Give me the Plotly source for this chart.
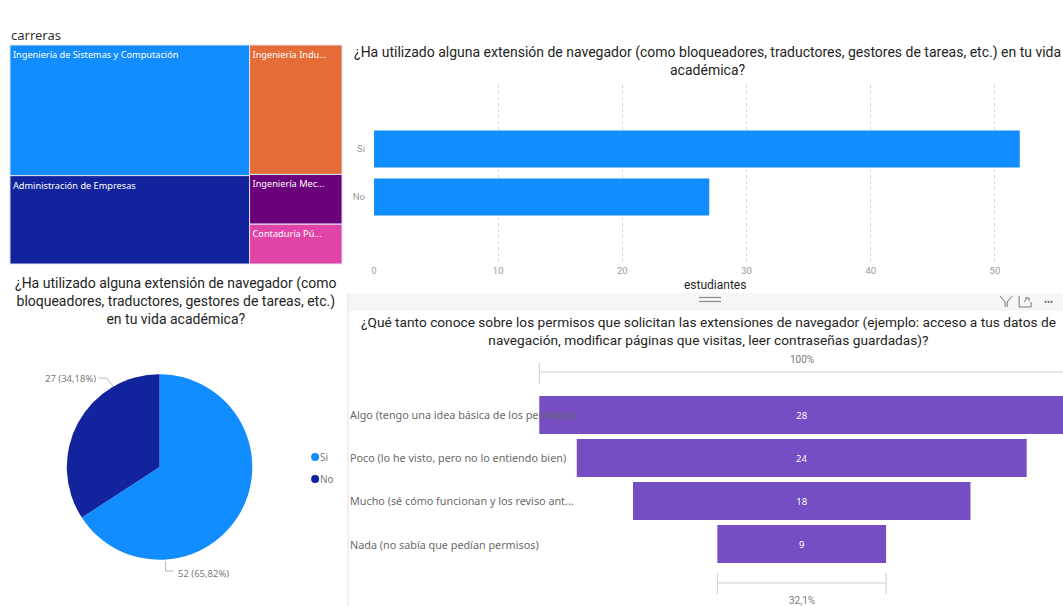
import plotly.graph_objects as go

# ---------------- data ----------------
carreras = [
    "Ingeniería de Sistemas y Computación",
    "Ingeniería Industrial",
    "Administración de Empresas",
    "Ingeniería Mecánica",
    "Contaduría Pública",
]
carreras_texto = [
    "Ingeniería de Sistemas y Computación",
    "Ingeniería Indu...",
    "Administración de Empresas",
    "Ingeniería Mec...",
    "Contaduría Pú...",
]
carreras_estudiantes = [34, 13, 23, 5, 4]
carreras_colores = ["#118DFF", "#E66C37", "#12239E", "#6B007B", "#E044A7"]

uso_respuestas = ["Si", "No"]
uso_estudiantes = [52, 27]
uso_ticks = [0, 10, 20, 30, 40, 50]

permisos_niveles = [
    "Algo (tengo una idea básica de los permisos)",
    "Poco (lo he visto, pero no lo entiendo bien)",
    "Mucho (sé cómo funcionan y los reviso ant...",
    "Nada (no sabía que pedían permisos)",
]
permisos_estudiantes = [28, 24, 18, 9]

# ---------------- helpers ----------------
W, H = 1063, 606


def px(x):
    return x / W


def py(y):
    return 1 - y / H


TITLE_FONT = "Roboto, sans-serif"
BODY_FONT = "Noto Sans, Open Sans, sans-serif"
DARK = "#252423"
GRAY = "#7a7a7a"
TITLE_SIZE = 14

fig = go.Figure()

# ---------------- treemap: carreras ----------------
fig.add_trace(go.Treemap(
    labels=carreras,
    parents=[""] * len(carreras),
    values=carreras_estudiantes,
    text=carreras_texto,
    texttemplate="%{text}",
    textposition="top left",
    textfont=dict(family=BODY_FONT, size=9.2, color="white"),
    marker=dict(colors=carreras_colores, line=dict(color="#dde3f3", width=1),
                pad=dict(t=0, l=0, r=0, b=0)),
    pathbar=dict(visible=False),
    tiling=dict(pad=0, squarifyratio=2),
    root=dict(color="white"),
    domain=dict(x=[px(7), px(340)], y=[py(264), py(45)]),
    hoverinfo="label+value",
))

# ---------------- bar chart ----------------
fig.add_trace(go.Bar(
    x=uso_estudiantes,
    y=uso_respuestas,
    orientation="h",
    marker=dict(color="#118DFF", line=dict(width=0)),
    width=0.77,
    xaxis="x",
    yaxis="y",
    showlegend=False,
))

# ---------------- pie chart ----------------
pie_colors = ["#118DFF", "#12239E"]
fig.add_trace(go.Pie(
    labels=uso_respuestas,
    values=uso_estudiantes,
    sort=False,
    direction="clockwise",
    rotation=0,
    marker=dict(colors=pie_colors, line=dict(width=0)),
    textinfo="none",
    showlegend=False,
    domain=dict(x=[px(64), px(250)], y=[py(560), py(374)]),
))

# ---------------- funnel ----------------
fig.add_trace(go.Funnel(
    x=permisos_estudiantes,
    y=permisos_niveles,
    marker=dict(color="#744EC2"),
    textinfo="value",
    textposition="inside",
    textfont=dict(family=BODY_FONT, size=9.5, color="white"),
    insidetextanchor="middle",
    connector=dict(visible=False),
    width=0.88,
    xaxis="x2",
    yaxis="y2",
    showlegend=False,
))

# funnel scale: 0 sits at pixel 801, 18.8 px per student
f_scale = 18.8
f_left, f_right, f_center = 521, 1063, 801
f_range = [-(f_center - f_left) / f_scale, (f_right - f_center) / f_scale]

shapes = []
annotations = []

# titles
annotations.append(dict(
    text="carreras", x=px(6), y=py(35), xref="paper", yref="paper",
    xanchor="left", yanchor="middle", showarrow=False,
    font=dict(family=BODY_FONT, size=13, color="#333333"),
))
annotations.append(dict(
    text="¿Ha utilizado alguna extensión de navegador (como bloqueadores, traductores, gestores de tareas, etc.) en tu vida<br>académica?",
    x=px(706), y=py(61), xref="paper", yref="paper",
    xanchor="center", yanchor="middle", showarrow=False,
    font=dict(family=TITLE_FONT, size=TITLE_SIZE, color=DARK),
))
annotations.append(dict(
    text="¿Ha utilizado alguna extensión de navegador (como<br>bloqueadores, traductores, gestores de tareas, etc.)<br>en tu vida académica?",
    x=px(173), y=py(301), xref="paper", yref="paper",
    xanchor="center", yanchor="middle", showarrow=False,
    font=dict(family=TITLE_FONT, size=TITLE_SIZE, color=DARK),
))
annotations.append(dict(
    text="¿Qué tanto conoce sobre los permisos que solicitan las extensiones de navegador (ejemplo: acceso a tus datos de<br>navegación, modificar páginas que visitas, leer contraseñas guardadas)?",
    x=px(707), y=py(331), xref="paper", yref="paper",
    xanchor="center", yanchor="middle", showarrow=False,
    font=dict(family=TITLE_FONT, size=13.7, color=DARK),
))

# bar chart axis title
annotations.append(dict(
    text="estudiantes", x=px(714), y=py(285), xref="paper", yref="paper",
    xanchor="center", yanchor="middle", showarrow=False,
    font=dict(family=TITLE_FONT, size=12, color=DARK),
))

# pie labels with leader lines
total = sum(uso_estudiantes)
pie_label_pos = [  # (x, y, anchor)
    (173, 573, "left"),
    (95, 378, "right"),
]
for v, (lx, ly, anc) in zip(uso_estudiantes, pie_label_pos):
    pct = f"{100 * v / total:.2f}".replace(".", ",")
    annotations.append(dict(
        text=f"{v} ({pct}%)", x=px(lx), y=py(ly), xref="paper", yref="paper",
        xanchor=anc, yanchor="middle", showarrow=False,
        font=dict(family=BODY_FONT, size=9.5, color=GRAY),
    ))
shapes.append(dict(type="path", xref="paper", yref="paper",
                   path=f"M {px(96)},{py(378)} L {px(104)},{py(378)} L {px(111)},{py(387)}",
                   line=dict(color="#b8b8b8", width=1)))
shapes.append(dict(type="path", xref="paper", yref="paper",
                   path=f"M {px(163)},{py(561)} L {px(163)},{py(571)} L {px(171)},{py(571)}",
                   line=dict(color="#b8b8b8", width=1)))

# pie legend
for i, (lab, col) in enumerate(zip(uso_respuestas, pie_colors)):
    cy = 457 + 22 * i
    shapes.append(dict(type="circle", xref="paper", yref="paper",
                       x0=px(309), x1=px(317), y0=py(cy + 4), y1=py(cy - 4),
                       fillcolor=col, line=dict(width=0)))
    annotations.append(dict(
        text=lab, x=px(316), y=py(cy), xref="paper", yref="paper",
        xanchor="left", yanchor="middle", showarrow=False,
        font=dict(family=BODY_FONT, size=10, color=GRAY),
    ))

# funnel panel frame / header
shapes.append(dict(type="rect", xref="paper", yref="paper",
                   x0=px(346), x1=px(1063), y0=py(311), y1=py(293),
                   fillcolor="#f6f6f6", line=dict(width=0), layer="below"))
shapes.append(dict(type="line", xref="paper", yref="paper",
                   x0=px(346), x1=px(346), y0=py(293), y1=py(606),
                   line=dict(color="#e3e3e3", width=1)))
for yy in (297.5, 301.5):
    shapes.append(dict(type="line", xref="paper", yref="paper",
                       x0=px(698), x1=px(720), y0=py(yy), y1=py(yy),
                       line=dict(color="#8a8a8a", width=1.2)))
# filter icon
shapes.append(dict(type="path", xref="paper", yref="paper",
                   path=f"M {px(1000)},{py(296)} L {px(1005)},{py(302)} L {px(1005)},{py(307)} "
                        f"M {px(1012)},{py(296)} L {px(1007)},{py(302)} L {px(1007)},{py(307)}",
                   line=dict(color="#777777", width=1)))
# focus icon
shapes.append(dict(type="path", xref="paper", yref="paper",
                   path=f"M {px(1019)},{py(296)} L {px(1019)},{py(307)} L {px(1031)},{py(307)} L {px(1031)},{py(302)} "
                        f"M {px(1024)},{py(302)} L {px(1027)},{py(298)} M {px(1025)},{py(298)} L {px(1029)},{py(298)} L {px(1029)},{py(301)}",
                   line=dict(color="#777777", width=1)))
annotations.append(dict(
    text="•••", x=px(1042), y=py(301), xref="paper", yref="paper",
    xanchor="left", yanchor="middle", showarrow=False,
    font=dict(family=BODY_FONT, size=8, color="#666666"),
))

# funnel category labels
for lvl in permisos_niveles:
    annotations.append(dict(
        text=lvl, x=px(346), y=lvl, xref="paper", yref="y2",
        xanchor="left", yanchor="middle", showarrow=False,
        font=dict(family=BODY_FONT, size=10.8, color="#6a6a6a"),
    ))

# funnel brackets: first stage (100%) and last stage relative to first
first, last = permisos_estudiantes[0], permisos_estudiantes[-1]
shapes.append(dict(type="line", xref="x2", yref="paper",
                   x0=-first / 2, x1=first / 2, y0=py(372), y1=py(372),
                   line=dict(color="#cfcfcf", width=1)))
shapes.append(dict(type="line", xref="x2", yref="paper",
                   x0=-first / 2, x1=-first / 2, y0=py(363), y1=py(384),
                   line=dict(color="#cfcfcf", width=1)))
shapes.append(dict(type="line", xref="x2", yref="paper",
                   x0=-last / 2, x1=last / 2, y0=py(583), y1=py(583),
                   line=dict(color="#cfcfcf", width=1)))
for xe in (-last / 2, last / 2):
    shapes.append(dict(type="line", xref="x2", yref="paper",
                       x0=xe, x1=xe, y0=py(573), y1=py(594),
                       line=dict(color="#cfcfcf", width=1)))
annotations.append(dict(
    text="100%", x=0, y=py(359), xref="x2", yref="paper",
    xanchor="center", yanchor="middle", showarrow=False,
    font=dict(family=TITLE_FONT, size=10, color=GRAY),
))
annotations.append(dict(
    text=f"{100 * last / first:.1f}%".replace(".", ","), x=0, y=py(600),
    xref="x2", yref="paper", xanchor="center", yanchor="middle", showarrow=False,
    font=dict(family=TITLE_FONT, size=10, color=GRAY),
))

# bar chart y range: Si at pixel 149, No at 197 (48 px per category)
bar_top, bar_bot = 85, 263
y_hi = 1 + (149 - bar_top) / 48
y_lo = 0 - (bar_bot - 197) / 48

fig.update_layout(
    width=W, height=H,
    margin=dict(l=0, r=0, t=0, b=0),
    paper_bgcolor="white",
    plot_bgcolor="white",
    separators=",.",
    showlegend=False,
    font=dict(family=BODY_FONT, color=GRAY),
    xaxis=dict(
        domain=[px(372), px(1057)], range=[0, 55],
        tickvals=uso_ticks, showgrid=True, gridcolor="#d6d6d6", griddash="dot",
        gridwidth=1, zeroline=False, showline=False, ticks="",
        tickfont=dict(family=TITLE_FONT, size=9.5, color="#9a9a9a"),
        anchor="y", fixedrange=True,
    ),
    yaxis=dict(
        domain=[py(bar_bot), py(bar_top)], range=[y_lo, y_hi],
        type="category", categoryorder="array", categoryarray=["No", "Si"],
        showgrid=False, zeroline=False, showline=False, ticks="",
        tickfont=dict(family=TITLE_FONT, size=9.5, color="#9a9a9a"),
        ticklabelstandoff=8, anchor="x", fixedrange=True,
    ),
    xaxis2=dict(
        domain=[px(f_left), px(f_right)], range=f_range,
        visible=False, anchor="y2", fixedrange=True,
    ),
    yaxis2=dict(
        domain=[py(565.5), py(393.5)], range=[3.5, -0.5],
        type="category", categoryorder="array", categoryarray=permisos_niveles,
        showticklabels=False, showgrid=False, zeroline=False, showline=False,
        anchor="x2", fixedrange=True,
    ),
    shapes=shapes,
    annotations=annotations,
)

fig.write_html("out.html")
